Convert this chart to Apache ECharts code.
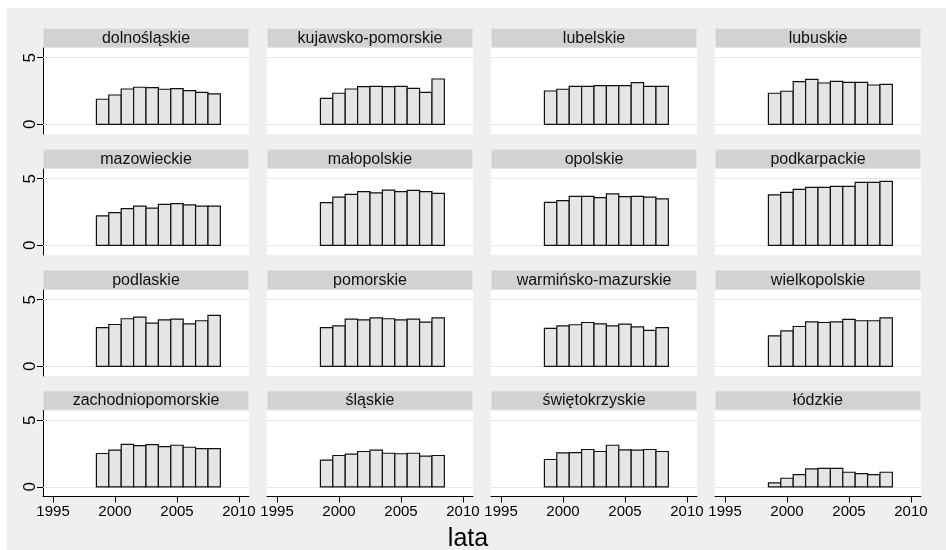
<!DOCTYPE html>
<html>
<head>
<meta charset="utf-8">
<script src="https://cdn.jsdelivr.net/npm/echarts@6/dist/echarts.min.js"></script>
<style>
  html, body { margin: 0; padding: 0; background: #fff; }
  #chart { width: 946px; height: 550px; }
</style>
</head>
<body>
<div id="chart"></div>
<script>
// lata 1999-2008
const years = [1999, 2000, 2001, 2002, 2003, 2004, 2005, 2006, 2007, 2008];
const xTicks = [1995, 2000, 2005, 2010];
const yTicks = [0, 5];

const dolnoslaskie = [1.88, 2.2, 2.65, 2.78, 2.75, 2.63, 2.68, 2.53, 2.4, 2.28];
const kujawskoPomorskie = [1.95, 2.33, 2.65, 2.83, 2.85, 2.83, 2.85, 2.7, 2.4, 3.4];
const lubelskie = [2.5, 2.63, 2.85, 2.85, 2.9, 2.9, 2.9, 3.13, 2.85, 2.85];
const lubuskie = [2.33, 2.48, 3.2, 3.38, 3.1, 3.23, 3.15, 3.15, 2.95, 3.0];
const mazowieckie = [2.21, 2.46, 2.76, 2.94, 2.79, 3.08, 3.13, 3.03, 2.94, 2.94];
const malopolskie = [3.21, 3.61, 3.83, 4.03, 3.93, 4.15, 4.03, 4.13, 4.03, 3.9];
const opolskie = [3.23, 3.36, 3.68, 3.68, 3.58, 3.86, 3.66, 3.68, 3.61, 3.48];
const podkarpackie = [3.78, 3.98, 4.2, 4.35, 4.35, 4.43, 4.43, 4.73, 4.73, 4.8];
const podlaskie = [2.91, 3.14, 3.57, 3.69, 3.24, 3.49, 3.54, 3.19, 3.42, 3.82];
const pomorskie = [2.91, 3.04, 3.54, 3.49, 3.64, 3.57, 3.49, 3.54, 3.32, 3.64];
const warminskoMazurskie = [2.84, 3.04, 3.12, 3.29, 3.19, 3.04, 3.17, 2.96, 2.69, 2.91];
const wielkopolskie = [2.29, 2.66, 2.99, 3.34, 3.29, 3.34, 3.52, 3.42, 3.42, 3.64];
const zachodniopomorskie = [2.5, 2.75, 3.19, 3.09, 3.17, 3.02, 3.12, 2.97, 2.87, 2.87];
const slaskie = [2.0, 2.35, 2.45, 2.65, 2.75, 2.52, 2.48, 2.52, 2.3, 2.35];
const swietokrzyskie = [2.05, 2.55, 2.57, 2.8, 2.65, 3.12, 2.77, 2.75, 2.8, 2.65];
const lodzkie = [0.3, 0.64, 0.92, 1.34, 1.39, 1.39, 1.09, 0.99, 0.92, 1.09];

const regionNames = ['dolnośląskie', 'kujawsko-pomorskie', 'lubelskie', 'lubuskie',
  'mazowieckie', 'małopolskie', 'opolskie', 'podkarpackie',
  'podlaskie', 'pomorskie', 'warmińsko-mazurskie', 'wielkopolskie',
  'zachodniopomorskie', 'śląskie', 'świętokrzyskie', 'łódzkie'];
const regionValues = [dolnoslaskie, kujawskoPomorskie, lubelskie, lubuskie,
  mazowieckie, malopolskie, opolskie, podkarpackie,
  podlaskie, pomorskie, warminskoMazurskie, wielkopolskie,
  zachodniopomorskie, slaskie, swietokrzyskie, lodzkie];

// uklad paneli
const colLeft = [43, 267, 491, 715];
const panelW = 206;
const panelH = 86;
const rowTop = [48, 169, 290, 410.5];
const stripH = 20;
const font = '"Liberation Sans", Arial, sans-serif';

const myChart = echarts.init(document.getElementById('chart'));

const grid = [], xAxis = [], yAxis = [], series = [];
const graphic = [{
  type: 'rect', z: -10, silent: true,
  shape: { x: 7, y: 8, width: 939, height: 542 },
  style: { fill: '#EFEFEF' }
}];

regionNames.forEach(function (name, i) {
  const r = Math.floor(i / 4), c = i % 4;
  const bottomRow = r === 3, firstCol = c === 0;
  grid.push({
    left: colLeft[c], top: rowTop[r], width: panelW, height: panelH,
    show: true, backgroundColor: '#fff', borderWidth: 0
  });
  xAxis.push({
    type: 'value', gridIndex: i, min: 1994.19, max: 2010.81,
    show: bottomRow,
    splitLine: { show: false },
    axisLine: { show: true, onZero: false, lineStyle: { color: '#000', width: 1 } },
    axisTick: { show: true, length: 6, customValues: xTicks, lineStyle: { color: '#000' } },
    axisLabel: {
      customValues: xTicks, color: '#000', fontSize: 15, fontFamily: font, margin: 8,
      formatter: function (v) { return String(v); }
    }
  });
  yAxis.push({
    type: 'value', gridIndex: i, min: -0.73, max: 5.73,
    show: firstCol,
    splitLine: { show: false },
    axisLine: { show: true, onZero: false, lineStyle: { color: '#000', width: 1 } },
    axisTick: { show: true, length: 6, customValues: yTicks, lineStyle: { color: '#000' } },
    axisLabel: {
      customValues: yTicks, rotate: 90, color: '#000', fontSize: 17, fontFamily: font, margin: 4,
      formatter: function (v) { return String(v); }
    }
  });
  series.push({
    type: 'custom', xAxisIndex: i, yAxisIndex: i, z: 3,
    data: years.map(function (y, k) { return [y, regionValues[i][k]]; }),
    renderItem: function (params, api) {
      const x = api.value(0), v = api.value(1);
      const p0 = api.coord([x - 0.5, v]);
      const p1 = api.coord([x + 0.5, 0]);
      return {
        type: 'rect',
        shape: { x: p0[0], y: p0[1], width: p1[0] - p0[0], height: p1[1] - p0[1] },
        style: { fill: '#E5E5E5', stroke: '#111', lineWidth: 1.2 }
      };
    },
    markLine: {
      silent: true, symbol: 'none', z: 1,
      label: { show: false },
      lineStyle: { color: '#E6E6E6', type: 'solid', width: 1.2 },
      data: yTicks.map(function (t) { return { yAxis: t }; })
    }
  });
  // pasek z nazwa wojewodztwa
  graphic.push({
    type: 'rect', silent: true,
    shape: { x: colLeft[c] + 0.5, y: rowTop[r] - stripH + 0.5, width: panelW - 1, height: stripH - 1 },
    style: { fill: '#D2D2D2', stroke: '#DCE6EA', lineWidth: 1 }
  });
  graphic.push({
    type: 'text', silent: true,
    x: colLeft[c] + panelW / 2, y: rowTop[r] - stripH / 2 + 0.5,
    style: {
      text: name, fill: '#111', font: '16px ' + font,
      textAlign: 'center', textVerticalAlign: 'middle'
    }
  });
});

graphic.push({
  type: 'text', silent: true, x: 468, y: 539,
  style: { text: 'lata', fill: '#000', font: '25px ' + font, textAlign: 'center', textVerticalAlign: 'middle' }
});

myChart.setOption({
  animation: false,
  backgroundColor: '#fff',
  grid: grid,
  xAxis: xAxis,
  yAxis: yAxis,
  series: series,
  graphic: graphic
});
</script>
</body>
</html>
